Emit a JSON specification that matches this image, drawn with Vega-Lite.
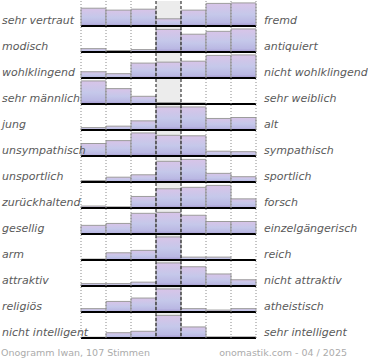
{
  "$schema": "https://vega.github.io/schema/vega-lite/v6.json",
  "padding": {"left": 1, "top": 0, "right": 0, "bottom": 0},
  "config": {"view": {"stroke": null}, "font": "DejaVu Sans"},
  "spacing": 6,
  "vconcat": [
    {
      "data": {"values": [
        {"i":1,"l":"sehr vertraut","r":"fremd","c":1,"h":18.5},{"i":1,"l":"sehr vertraut","r":"fremd","c":2,"h":16.5},{"i":1,"l":"sehr vertraut","r":"fremd","c":3,"h":17.5},{"i":1,"l":"sehr vertraut","r":"fremd","c":4,"h":7.5},{"i":1,"l":"sehr vertraut","r":"fremd","c":5,"h":16.5},{"i":1,"l":"sehr vertraut","r":"fremd","c":6,"h":23.5},{"i":1,"l":"sehr vertraut","r":"fremd","c":7,"h":24},
        {"i":2,"l":"modisch","r":"antiquiert","c":1,"h":3.5},{"i":2,"l":"modisch","r":"antiquiert","c":2,"h":1.5},{"i":2,"l":"modisch","r":"antiquiert","c":3,"h":2.5},{"i":2,"l":"modisch","r":"antiquiert","c":4,"h":23.5},{"i":2,"l":"modisch","r":"antiquiert","c":5,"h":18.5},{"i":2,"l":"modisch","r":"antiquiert","c":6,"h":21.5},{"i":2,"l":"modisch","r":"antiquiert","c":7,"h":24},
        {"i":3,"l":"wohlklingend","r":"nicht wohlklingend","c":1,"h":6.5},{"i":3,"l":"wohlklingend","r":"nicht wohlklingend","c":2,"h":4.5},{"i":3,"l":"wohlklingend","r":"nicht wohlklingend","c":3,"h":15.5},{"i":3,"l":"wohlklingend","r":"nicht wohlklingend","c":4,"h":16.5},{"i":3,"l":"wohlklingend","r":"nicht wohlklingend","c":5,"h":17.5},{"i":3,"l":"wohlklingend","r":"nicht wohlklingend","c":6,"h":23.5},{"i":3,"l":"wohlklingend","r":"nicht wohlklingend","c":7,"h":24},
        {"i":4,"l":"sehr männlich","r":"sehr weiblich","c":1,"h":24},{"i":4,"l":"sehr männlich","r":"sehr weiblich","c":2,"h":16},{"i":4,"l":"sehr männlich","r":"sehr weiblich","c":3,"h":8},{"i":4,"l":"sehr männlich","r":"sehr weiblich","c":4,"h":1.5},{"i":4,"l":"sehr männlich","r":"sehr weiblich","c":5,"h":1},{"i":4,"l":"sehr männlich","r":"sehr weiblich","c":6,"h":0},{"i":4,"l":"sehr männlich","r":"sehr weiblich","c":7,"h":0},
        {"i":5,"l":" jung","r":"alt","c":1,"h":2.5},{"i":5,"l":" jung","r":"alt","c":2,"h":4},{"i":5,"l":" jung","r":"alt","c":3,"h":9.5},{"i":5,"l":" jung","r":"alt","c":4,"h":24},{"i":5,"l":" jung","r":"alt","c":5,"h":24},{"i":5,"l":" jung","r":"alt","c":6,"h":12},{"i":5,"l":" jung","r":"alt","c":7,"h":13},
        {"i":6,"l":"unsympathisch","r":"sympathisch","c":1,"h":13},{"i":6,"l":"unsympathisch","r":"sympathisch","c":2,"h":16},{"i":6,"l":"unsympathisch","r":"sympathisch","c":3,"h":24},{"i":6,"l":"unsympathisch","r":"sympathisch","c":4,"h":21.5},{"i":6,"l":"unsympathisch","r":"sympathisch","c":5,"h":21},{"i":6,"l":"unsympathisch","r":"sympathisch","c":6,"h":5},{"i":6,"l":"unsympathisch","r":"sympathisch","c":7,"h":4.5},
        {"i":7,"l":"unsportlich","r":"sportlich","c":1,"h":1.5},{"i":7,"l":"unsportlich","r":"sportlich","c":2,"h":5},{"i":7,"l":"unsportlich","r":"sportlich","c":3,"h":7.5},{"i":7,"l":"unsportlich","r":"sportlich","c":4,"h":21.5},{"i":7,"l":"unsportlich","r":"sportlich","c":5,"h":23.5},{"i":7,"l":"unsportlich","r":"sportlich","c":6,"h":9},{"i":7,"l":"unsportlich","r":"sportlich","c":7,"h":5.5},
        {"i":8,"l":"zurückhaltend","r":"forsch","c":1,"h":2},{"i":8,"l":"zurückhaltend","r":"forsch","c":2,"h":1.2},{"i":8,"l":"zurückhaltend","r":"forsch","c":3,"h":12},{"i":8,"l":"zurückhaltend","r":"forsch","c":4,"h":20},{"i":8,"l":"zurückhaltend","r":"forsch","c":5,"h":21.5},{"i":8,"l":"zurückhaltend","r":"forsch","c":6,"h":23.5},{"i":8,"l":"zurückhaltend","r":"forsch","c":7,"h":9.5},
        {"i":9,"l":"gesellig","r":"einzelgängerisch","c":1,"h":9},{"i":9,"l":"gesellig","r":"einzelgängerisch","c":2,"h":11},{"i":9,"l":"gesellig","r":"einzelgängerisch","c":3,"h":21.5},{"i":9,"l":"gesellig","r":"einzelgängerisch","c":4,"h":22.5},{"i":9,"l":"gesellig","r":"einzelgängerisch","c":5,"h":19.5},{"i":9,"l":"gesellig","r":"einzelgängerisch","c":6,"h":13},{"i":9,"l":"gesellig","r":"einzelgängerisch","c":7,"h":13},
        {"i":10,"l":"arm","r":"reich","c":1,"h":1},{"i":10,"l":"arm","r":"reich","c":2,"h":7.5},{"i":10,"l":"arm","r":"reich","c":3,"h":10},{"i":10,"l":"arm","r":"reich","c":4,"h":24},{"i":10,"l":"arm","r":"reich","c":5,"h":3},{"i":10,"l":"arm","r":"reich","c":6,"h":3},{"i":10,"l":"arm","r":"reich","c":7,"h":0},
        {"i":11,"l":"attraktiv","r":"nicht attraktiv","c":1,"h":2.5},{"i":11,"l":"attraktiv","r":"nicht attraktiv","c":2,"h":2.5},{"i":11,"l":"attraktiv","r":"nicht attraktiv","c":3,"h":4},{"i":11,"l":"attraktiv","r":"nicht attraktiv","c":4,"h":24},{"i":11,"l":"attraktiv","r":"nicht attraktiv","c":5,"h":20},{"i":11,"l":"attraktiv","r":"nicht attraktiv","c":6,"h":12.5},{"i":11,"l":"attraktiv","r":"nicht attraktiv","c":7,"h":6.5},
        {"i":12,"l":"religiös","r":"atheistisch","c":1,"h":3.5},{"i":12,"l":"religiös","r":"atheistisch","c":2,"h":11},{"i":12,"l":"religiös","r":"atheistisch","c":3,"h":14.5},{"i":12,"l":"religiös","r":"atheistisch","c":4,"h":24},{"i":12,"l":"religiös","r":"atheistisch","c":5,"h":3.5},{"i":12,"l":"religiös","r":"atheistisch","c":6,"h":2},{"i":12,"l":"religiös","r":"atheistisch","c":7,"h":3.5},
        {"i":13,"l":"nicht intelligent","r":"sehr intelligent","c":1,"h":0.8},{"i":13,"l":"nicht intelligent","r":"sehr intelligent","c":2,"h":5.5},{"i":13,"l":"nicht intelligent","r":"sehr intelligent","c":3,"h":7},{"i":13,"l":"nicht intelligent","r":"sehr intelligent","c":4,"h":23.5},{"i":13,"l":"nicht intelligent","r":"sehr intelligent","c":5,"h":11.5},{"i":13,"l":"nicht intelligent","r":"sehr intelligent","c":6,"h":1.2},{"i":13,"l":"nicht intelligent","r":"sehr intelligent","c":7,"h":1.2}
      ]},
      "facet": {"row": {"field": "i", "type": "ordinal", "header": null, "title": null}},
      "spacing": 0,
      "bounds": "flush",
      "spec": {
        "width": 175,
        "height": 26,
        "encoding": {
          "x": {"field": "c", "type": "ordinal", "scale": {"padding": 0}, "axis": null}
        },
        "layer": [
          {
            "transform": [{"filter": "datum.c == 4"}],
            "mark": {"type": "bar", "color": "#ececec"}
          },
          {
            "mark": {
              "type": "bar",
              "fill": {"gradient": "linear", "x1": 0, "y1": 0, "x2": 0, "y2": 1,
                "stops": [
                  {"offset": 0, "color": "#d8c4e8"},
                  {"offset": 0.5, "color": "#c5c8ea"},
                  {"offset": 0.85, "color": "#bab8e3"},
                  {"offset": 1, "color": "#a398d0"}
                ]},
              "stroke": "#9c9c9c",
              "strokeWidth": 1
            },
            "encoding": {
              "y": {"field": "h", "type": "quantitative", "scale": {"domain": [0, 25], "range": [25, 0]}, "axis": null}
            }
          },
          {
            "transform": [{"filter": "datum.c == 1"}],
            "mark": {"type": "rule", "color": "#000000", "strokeWidth": 2},
            "encoding": {
              "x": {"field": "c", "type": "ordinal", "bandPosition": 0},
              "x2": {"datum": 7, "bandPosition": 1},
              "y": {"datum": 0, "type": "quantitative"}
            }
          },
          {
            "transform": [{"filter": "datum.c != 4 && datum.c != 5"}],
            "mark": {"type": "rule", "color": "#8a8a8a", "strokeDash": [1, 2], "strokeWidth": 1},
            "encoding": {"x": {"field": "c", "type": "ordinal", "bandPosition": 0}}
          },
          {
            "transform": [{"filter": "datum.c == 7"}],
            "mark": {"type": "rule", "color": "#8a8a8a", "strokeDash": [1, 2], "strokeWidth": 1},
            "encoding": {"x": {"field": "c", "type": "ordinal", "bandPosition": 1}}
          },
          {
            "transform": [{"filter": "datum.c == 4 || datum.c == 5"}],
            "mark": {"type": "rule", "color": "#111111", "strokeDash": [3, 2], "strokeWidth": 1},
            "encoding": {"x": {"field": "c", "type": "ordinal", "bandPosition": 0}}
          },
          {
            "transform": [{"filter": "datum.c == 1"}],
            "mark": {"type": "text", "align": "left", "baseline": "middle", "dx": -79, "font": "DejaVu Sans", "fontStyle": "italic", "fontSize": 11, "color": "#5a5a5a"},
            "encoding": {
              "x": {"field": "c", "type": "ordinal", "bandPosition": 0},
              "y": {"datum": 5, "type": "quantitative"},
              "text": {"field": "l"}
            }
          },
          {
            "transform": [{"filter": "datum.c == 7"}],
            "mark": {"type": "text", "align": "left", "baseline": "middle", "dx": 8, "font": "DejaVu Sans", "fontStyle": "italic", "fontSize": 11, "color": "#5a5a5a"},
            "encoding": {
              "x": {"field": "c", "type": "ordinal", "bandPosition": 1},
              "y": {"datum": 5, "type": "quantitative"},
              "text": {"field": "r"}
            }
          }
        ]
      }
    },
    {
      "width": 266,
      "height": 14,
      "data": {"values": [
        {"t": "Onogramm Iwan, 107 Stimmen", "p": 0},
        {"t": "onomastik.com - 04 / 2025", "p": 1}
      ]},
      "layer": [
        {
          "transform": [{"filter": "datum.p == 0"}],
          "mark": {"type": "text", "align": "left", "dx": -80, "font": "DejaVu Sans", "fontSize": 9.5, "color": "#ababab"},
          "encoding": {
            "x": {"field": "p", "type": "quantitative", "scale": {"domain": [0, 1]}, "axis": null},
            "text": {"field": "t"}
          }
        },
        {
          "transform": [{"filter": "datum.p == 1"}],
          "mark": {"type": "text", "align": "right", "font": "DejaVu Sans", "fontSize": 9.5, "color": "#ababab"},
          "encoding": {
            "x": {"field": "p", "type": "quantitative", "scale": {"domain": [0, 1]}, "axis": null},
            "text": {"field": "t"}
          }
        }
      ]
    }
  ]
}
